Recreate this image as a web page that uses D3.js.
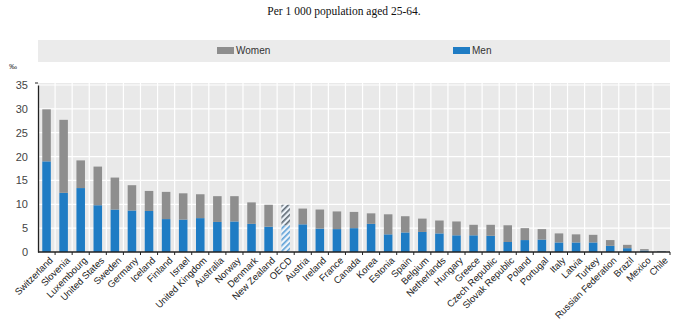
<!DOCTYPE html>
<html>
<head>
<meta charset="utf-8">
<script src="https://cdn.jsdelivr.net/npm/d3@7"></script>
<style>
body{margin:0;background:#fff;}
svg{display:block;}
</style>
</head>
<body>
<svg id="chart" width="680" height="321"></svg>
<script>
const categories = ["Switzerland","Slovenia","Luxembourg","United States","Sweden","Germany","Iceland","Finland","Israel","United Kingdom","Australia","Norway","Denmark","New Zealand","OECD","Austria","Ireland","France","Canada","Korea","Estonia","Spain","Belgium","Netherlands","Hungary","Greece","Czech Republic","Slovak Republic","Poland","Portugal","Italy","Latvia","Turkey","Russian Federation","Brazil","Mexico","Chile"];
const men   = [19.0,12.4,13.4,9.8,8.9,8.7,8.6,6.9,6.8,7.1,6.3,6.4,5.9,5.3,5.6,5.8,4.9,4.8,5.0,5.9,3.7,4.1,4.2,3.9,3.5,3.5,3.4,2.1,2.5,2.6,2.0,2.0,2.0,1.3,0.8,0.3,0.1];
const total = [29.9,27.7,19.2,17.9,15.6,14.0,12.8,12.6,12.3,12.1,11.7,11.7,10.4,9.9,9.9,9.1,8.9,8.5,8.4,8.1,7.9,7.5,7.0,6.6,6.4,5.7,5.7,5.6,5.0,4.8,3.9,3.7,3.6,2.5,1.5,0.6,0.2];
const women = total.map((t,i)=>+(t-men[i]).toFixed(2));
const yTicks = [0,5,10,15,20,25,30,35];
const seriesNames = ["Women","Men"];
const colors = {Men:"#1f7cc4", Women:"#8e8e8e"};

const svg = d3.select("#chart");
const L=38, R=670, T=85, B=252;

const x = d3.scaleBand().domain(categories).range([L,R]).paddingInner(0.5).paddingOuter(0.25);
const xb = d3.scaleBand().domain(categories).range([L,R]);
const y = d3.scaleLinear().domain([0,35]).range([B,T]);

// patterns
const defs = svg.append("defs");
function pat(id,col){
  const p = defs.append("pattern").attr("id",id).attr("patternUnits","userSpaceOnUse")
    .attr("width",4).attr("height",4).attr("patternTransform","rotate(45)");
  p.append("rect").attr("width",4).attr("height",4).attr("fill","#eef4fa");
  p.append("rect").attr("width",1.6).attr("height",4).attr("fill",col);
}
pat("hm","#5a9fd6");
pat("hw","#5b6670");

// title
svg.append("text").attr("x",344).attr("y",15).attr("text-anchor","middle")
  .attr("font-family","Liberation Serif, Times New Roman, serif").attr("font-size",11.5).attr("fill","#111")
  .text("Per 1 000 population aged 25-64.");

// legend
svg.append("rect").attr("x",38).attr("y",40).attr("width",632).attr("height",22).attr("fill","#ebebeb");
const legPos = {Women:217, Men:453};
seriesNames.forEach(s=>{
  svg.append("rect").attr("x",legPos[s]).attr("y",47).attr("width",17).attr("height",7).attr("fill",colors[s]);
  svg.append("text").attr("x",legPos[s]+19).attr("y",54).attr("font-family","Liberation Sans, Arial, sans-serif")
    .attr("font-size",10).attr("fill","#333").text(s);
});

// unit
svg.append("text").attr("x",9).attr("y",69).attr("font-family","Liberation Sans, Arial, sans-serif")
  .attr("font-size",8).attr("fill","#333").text("‰");

// plot bg
svg.append("rect").attr("x",L).attr("y",T-2).attr("width",R-L).attr("height",B-T+2).attr("fill","#e9e9e9");
// vertical grid
svg.append("g").selectAll("line").data(categories.slice(1)).join("line")
  .attr("x1",d=>xb(d)).attr("x2",d=>xb(d)).attr("y1",T-2).attr("y2",B)
  .attr("stroke","#fff").attr("stroke-width",1.2);
// horizontal grid
svg.append("g").selectAll("line").data(yTicks.slice(1)).join("line")
  .attr("x1",L).attr("x2",R).attr("y1",d=>y(d)).attr("y2",d=>y(d))
  .attr("stroke","#fff").attr("stroke-width",1.2);

// bars
const g = svg.append("g");
categories.forEach((c,i)=>{
  const isO = c==="OECD";
  g.append("rect").attr("x",x(c)).attr("width",x.bandwidth())
    .attr("y",y(men[i])).attr("height",y(0)-y(men[i]))
    .attr("fill",isO?"url(#hm)":colors.Men);
  g.append("rect").attr("x",x(c)).attr("width",x.bandwidth())
    .attr("y",y(total[i])).attr("height",y(men[i])-y(total[i]))
    .attr("fill",isO?"url(#hw)":colors.Women);
});

// y axis
const ya = svg.append("g").attr("transform",`translate(${L},0)`)
  .call(d3.axisLeft(y).tickValues(yTicks).tickSize(0).tickPadding(10));
ya.select(".domain").attr("stroke","#222").attr("stroke-width",1.3);
ya.selectAll("text").attr("font-family","Liberation Sans, Arial, sans-serif").attr("font-size",11).attr("fill","#444");
svg.append("line").attr("x1",L-3).attr("x2",L).attr("y1",T-2).attr("y2",T-2).attr("stroke","#222");

// x axis
svg.append("line").attr("x1",L).attr("x2",R).attr("y1",B).attr("y2",B).attr("stroke","#222").attr("stroke-width",1.3);
svg.append("g").selectAll("line").data(categories.slice(1).concat(["__end"])).join("line")
  .attr("x1",d=>d==="__end"?R:xb(d)).attr("x2",d=>d==="__end"?R:xb(d))
  .attr("y1",B).attr("y2",B+3).attr("stroke","#222");
svg.append("g").selectAll("text").data(categories).join("text")
  .attr("transform",d=>`translate(${xb(d)+xb.bandwidth()/2+3},${B+5}) rotate(-45)`)
  .attr("text-anchor","end").attr("dy","0.6em")
  .attr("font-family","Liberation Sans, Arial, sans-serif").attr("font-size",9.5).attr("fill","#222")
  .text(d=>d);
</script>
</body>
</html>
